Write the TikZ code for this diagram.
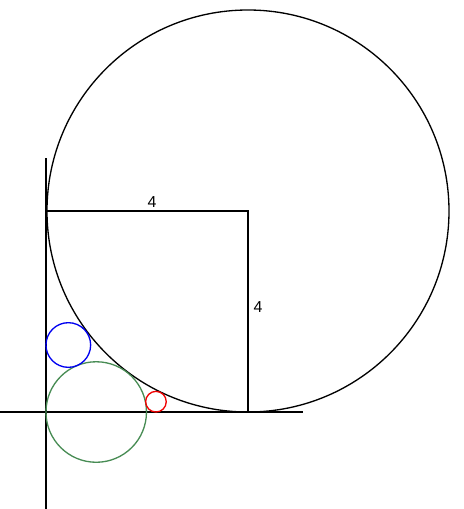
\documentclass[tikz,border=0pt]{standalone}
\usepackage{fontspec}
\setmainfont{Liberation Sans}
\definecolor{cgreen}{RGB}{72,140,84}
\definecolor{cblue}{RGB}{0,0,240}
\definecolor{cred}{RGB}{240,0,0}
\tikzset{
  axis/.style={line width=0.85pt, black},
  circ/.style={line width=0.75pt},
  lbl/.style={font=\fontsize{9}{11}\selectfont, inner sep=0pt},
}
\begin{document}
\begin{tikzpicture}[x=1cm,y=1cm]
\useasboundingbox (-0.915,-1.930) rectangle (8.318,8.199);
\coordinate (O) at (0,0);
\coordinate (vtop) at (0,5.05);
\coordinate (vbot) at (0,-1.95);
\coordinate (hl) at (-0.95,0);
\coordinate (hr) at (5.11,0);
\coordinate (C) at (4.02,4);
\coordinate (A) at (0,4);
\coordinate (B) at (4.02,0);
\draw[axis] (vtop) -- (vbot);
\draw[axis] (hl) -- (hr);
\draw[axis] (A) -- (C) -- (B);
\draw[circ] (C) circle (4);
\draw[circ, cgreen] (1,0) circle (1);
\draw[circ, cblue] (0.4444,1.3333) circle (0.4444);
\draw[circ, cred] (2.188,0.2053) circle (0.2053);
\node[lbl] (l1) at (2.11,4.18) {4};
\node[lbl] (l2) at (4.22,2.09) {4};
\end{tikzpicture}
\end{document}
